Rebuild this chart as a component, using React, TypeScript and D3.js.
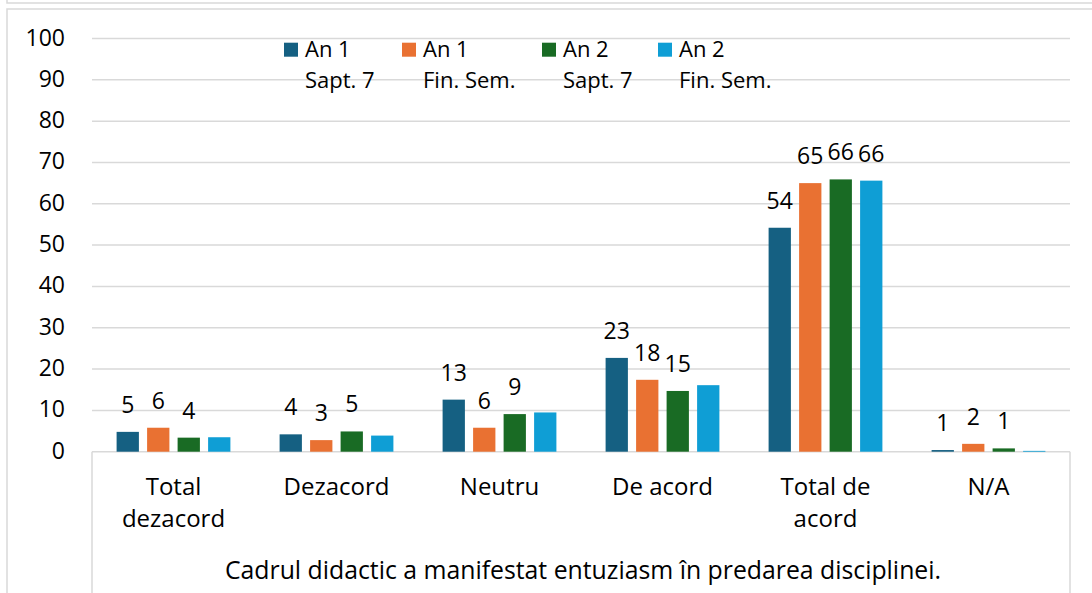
import React from "react";
import * as d3 from "d3";

const categories = ["Total dezacord", "Dezacord", "Neutru", "De acord", "Total de acord", "N/A"];
const categoryLines = [["Total", "dezacord"], ["Dezacord"], ["Neutru"], ["De acord"], ["Total de", "acord"], ["N/A"]];

const seriesNames = ["An 1 Sapt. 7", "An 1 Fin. Sem.", "An 2 Sapt. 7", "An 2 Fin. Sem."];
const legendLines = [["An 1", "Sapt. 7"], ["An 1", "Fin. Sem."], ["An 2", "Sapt. 7"], ["An 2", "Fin. Sem."]];
const colors = ["#156082", "#E97132", "#196B24", "#0F9ED5"];

const an1Sapt7 = [4.8, 4.2, 12.6, 22.7, 54.2, 0.4];
const an1FinSem = [5.8, 2.8, 5.8, 17.4, 65.0, 1.9];
const an2Sapt7 = [3.4, 4.9, 9.1, 14.7, 65.9, 0.8];
const an2FinSem = [3.5, 3.9, 9.5, 16.1, 65.6, 0.2];

const an1Sapt7Labels = ["5", "4", "13", "23", "54", "1"];
const an1FinSemLabels = ["6", "3", "6", "18", "65", "2"];
const an2Sapt7Labels = ["4", "5", "9", "15", "66", "1"];
const an2FinSemLabels = [null, null, null, null, "66", null];

const yTicks = [0, 10, 20, 30, 40, 50, 60, 70, 80, 90, 100];
const title = "Cadrul didactic a manifestat entuziasm în predarea disciplinei.";

const W = 1092;
const H = 593;
const FONT = "'Open Sans', 'Liberation Sans', Arial, sans-serif";
const GRID = "#d9d9d9";

export default function App() {
  const values = [an1Sapt7, an1FinSem, an2Sapt7, an2FinSem];
  const labels = [an1Sapt7Labels, an1FinSemLabels, an2Sapt7Labels, an2FinSemLabels];

  const plotLeft = 92;
  const plotRight = 1070;
  const y = d3.scaleLinear().domain([0, 100]).range([451.7, 38.5]);
  const x0 = d3.scaleBand<string>().domain(categories).range([plotLeft, plotRight]).padding(0);
  const bw = x0.bandwidth();
  const outer = 24.6;
  const x1 = d3
    .scaleBand<string>()
    .domain(seriesNames)
    .range([outer, bw - outer])
    .paddingInner(0.269)
    .paddingOuter(0);

  const legendX = [284, 402, 542, 658];

  return (
    <svg
      width={W}
      height={H}
      style={{ position: "absolute", left: 0, top: 0, background: "#fff" }}
      fontFamily={FONT}
    >
      <rect x={0} y={0} width={W} height={H} fill="#fff" />
      {/* frames */}
      <rect x={7} y={-100} width={1200} height={103} fill="none" stroke={GRID} strokeWidth={1.5} />
      <rect x={7} y={9} width={1200} height={700} fill="none" stroke={GRID} strokeWidth={1.5} />

      {/* gridlines */}
      {yTicks.map((t) => (
        <line key={t} x1={plotLeft} x2={plotRight} y1={y(t)} y2={y(t)} stroke={GRID} strokeWidth={1.5} />
      ))}
      {/* y labels */}
      {yTicks.map((t) => (
        <text key={"l" + t} x={65} y={y(t) + 7} textAnchor="end" fontSize={23} fill="#000">
          {t}
        </text>
      ))}

      {/* category axis box */}
      <line x1={plotLeft} x2={plotLeft} y1={y(0)} y2={H + 5} stroke={GRID} strokeWidth={1.5} />
      <line x1={plotRight} x2={plotRight} y1={y(0)} y2={H + 5} stroke={GRID} strokeWidth={1.5} />

      {/* bars */}
      {values.map((vals, si) =>
        vals.map((v, ci) => {
          const xx = (x0(categories[ci]) as number) + (x1(seriesNames[si]) as number);
          return (
            <rect
              key={si + "-" + ci}
              x={xx}
              y={y(v)}
              width={x1.bandwidth()}
              height={y(0) - y(v)}
              fill={colors[si]}
            />
          );
        })
      )}

      {/* data labels */}
      {labels.map((ls, si) =>
        ls.map((l, ci) => {
          if (l === null) return null;
          const xx = (x0(categories[ci]) as number) + (x1(seriesNames[si]) as number) + x1.bandwidth() / 2;
          return (
            <text key={"d" + si + "-" + ci} x={xx} y={y(values[si][ci]) - 19} textAnchor="middle" fontSize={23} fill="#000">
              {l}
            </text>
          );
        })
      )}

      {/* category labels */}
      {categoryLines.map((lines, ci) => {
        const cx = (x0(categories[ci]) as number) + bw / 2;
        return (
          <text key={"c" + ci} x={cx} textAnchor="middle" fontSize={24} fill="#000">
            {lines.map((ln, li) => (
              <tspan key={li} x={cx} y={495 + li * 32}>
                {ln}
              </tspan>
            ))}
          </text>
        );
      })}

      {/* title of outer level */}
      <text x={(plotLeft + plotRight) / 2 + 2} y={579} textAnchor="middle" fontSize={24.8} fill="#000">
        {title}
      </text>

      {/* legend */}
      {legendLines.map((lines, i) => (
        <g key={"lg" + i}>
          <rect x={legendX[i]} y={42.7} width={14} height={14} fill={colors[i]} />
          <text x={legendX[i] + 21} y={56.7} fontSize={22} fill="#000">
            {lines[0]}
          </text>
          <text x={legendX[i] + 21} y={87.5} fontSize={22} fill="#000">
            {lines[1]}
          </text>
        </g>
      ))}
    </svg>
  );
}
